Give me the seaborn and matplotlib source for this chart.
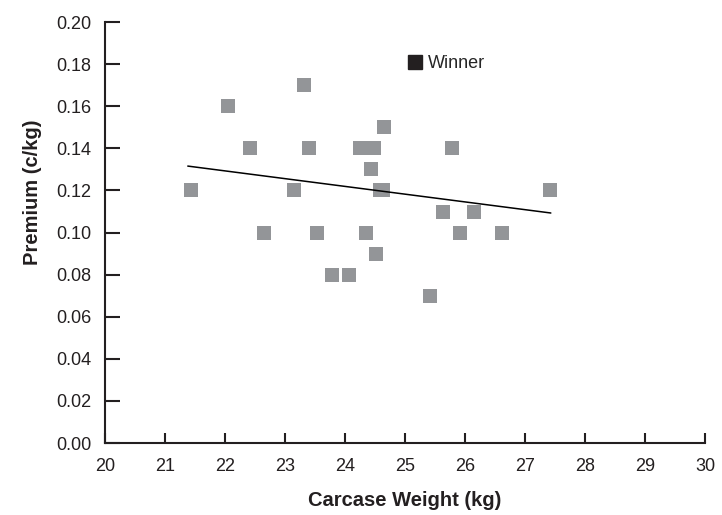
import numpy as np
import pandas as pd
import matplotlib
matplotlib.use("Agg")
import matplotlib.pyplot as plt
import seaborn as sns
from matplotlib.lines import Line2D

# Data
carcase_weight = [21.43, 22.05, 22.42, 22.65, 23.15, 23.32, 23.40, 23.53, 23.78,
                  24.07, 24.25, 24.35, 24.48, 24.43, 24.52, 24.65, 24.58, 24.63,
                  25.42, 25.63, 25.78, 25.92, 26.15, 26.62, 27.42]
premium = [0.12, 0.16, 0.14, 0.10, 0.12, 0.17, 0.14, 0.10, 0.08,
           0.08, 0.14, 0.10, 0.14, 0.13, 0.09, 0.15, 0.12, 0.12,
           0.07, 0.11, 0.14, 0.10, 0.11, 0.10, 0.12]

# Trend line end points as drawn in the chart
trend_x = [21.38, 27.43]
trend_y = [0.1316, 0.1093]

data = pd.DataFrame({"Carcase Weight (kg)": carcase_weight, "Premium (c/kg)": premium})
trend = pd.DataFrame({"x": trend_x, "y": trend_y})

sns.set_style("white")
plt.rcParams["font.family"] = ["Liberation Sans", "DejaVu Sans"]

fig = plt.figure(figsize=(7.22, 5.15), dpi=100)
ax = fig.add_axes([0.1454, 0.1398, 0.8311, 0.8172])

sns.scatterplot(x="Carcase Weight (kg)", y="Premium (c/kg)", data=data, ax=ax,
                marker="s", s=110, color="#939598", linewidth=0, zorder=2)
sns.lineplot(x="x", y="y", data=trend, ax=ax, color="black", linewidth=1.1, zorder=3)

ax.set_xlim(20, 30)
ax.set_ylim(0, 0.2)
ax.set_xticks(np.arange(20, 31, 1))
ax.set_yticks(np.arange(0, 0.201, 0.02))
ax.set_yticklabels([f"{v:.2f}" for v in np.arange(0, 0.201, 0.02)])

for s in ["top", "right"]:
    ax.spines[s].set_visible(False)
for s in ["left", "bottom"]:
    ax.spines[s].set_color("#231f20")
    ax.spines[s].set_linewidth(1.5)

ax.tick_params(axis="y", left=True, direction="in", length=11, width=1.5, color="#231f20",
               labelsize=13, labelcolor="#231f20", pad=10)
ax.tick_params(axis="x", bottom=True, direction="in", length=7, width=1.5, color="#231f20",
               labelsize=13, labelcolor="#231f20", pad=11)

ax.set_xlabel("Carcase Weight (kg)", fontsize=14.5, fontweight="bold", color="#231f20", labelpad=11)
ax.set_ylabel("Premium (c/kg)", fontsize=14.5, fontweight="bold", color="#231f20", labelpad=10)
ax.yaxis.set_label_coords(-0.105, 0.596)

handle = Line2D([], [], marker="s", color="#231f20", linestyle="none", markersize=9.5)
ax.legend([handle], ["Winner"], loc="center left", bbox_to_anchor=(0.49, 0.902),
          frameon=False, fontsize=13, handletextpad=0.2, borderaxespad=0, handlelength=1.0)

fig.savefig("out.png", dpi=100)
